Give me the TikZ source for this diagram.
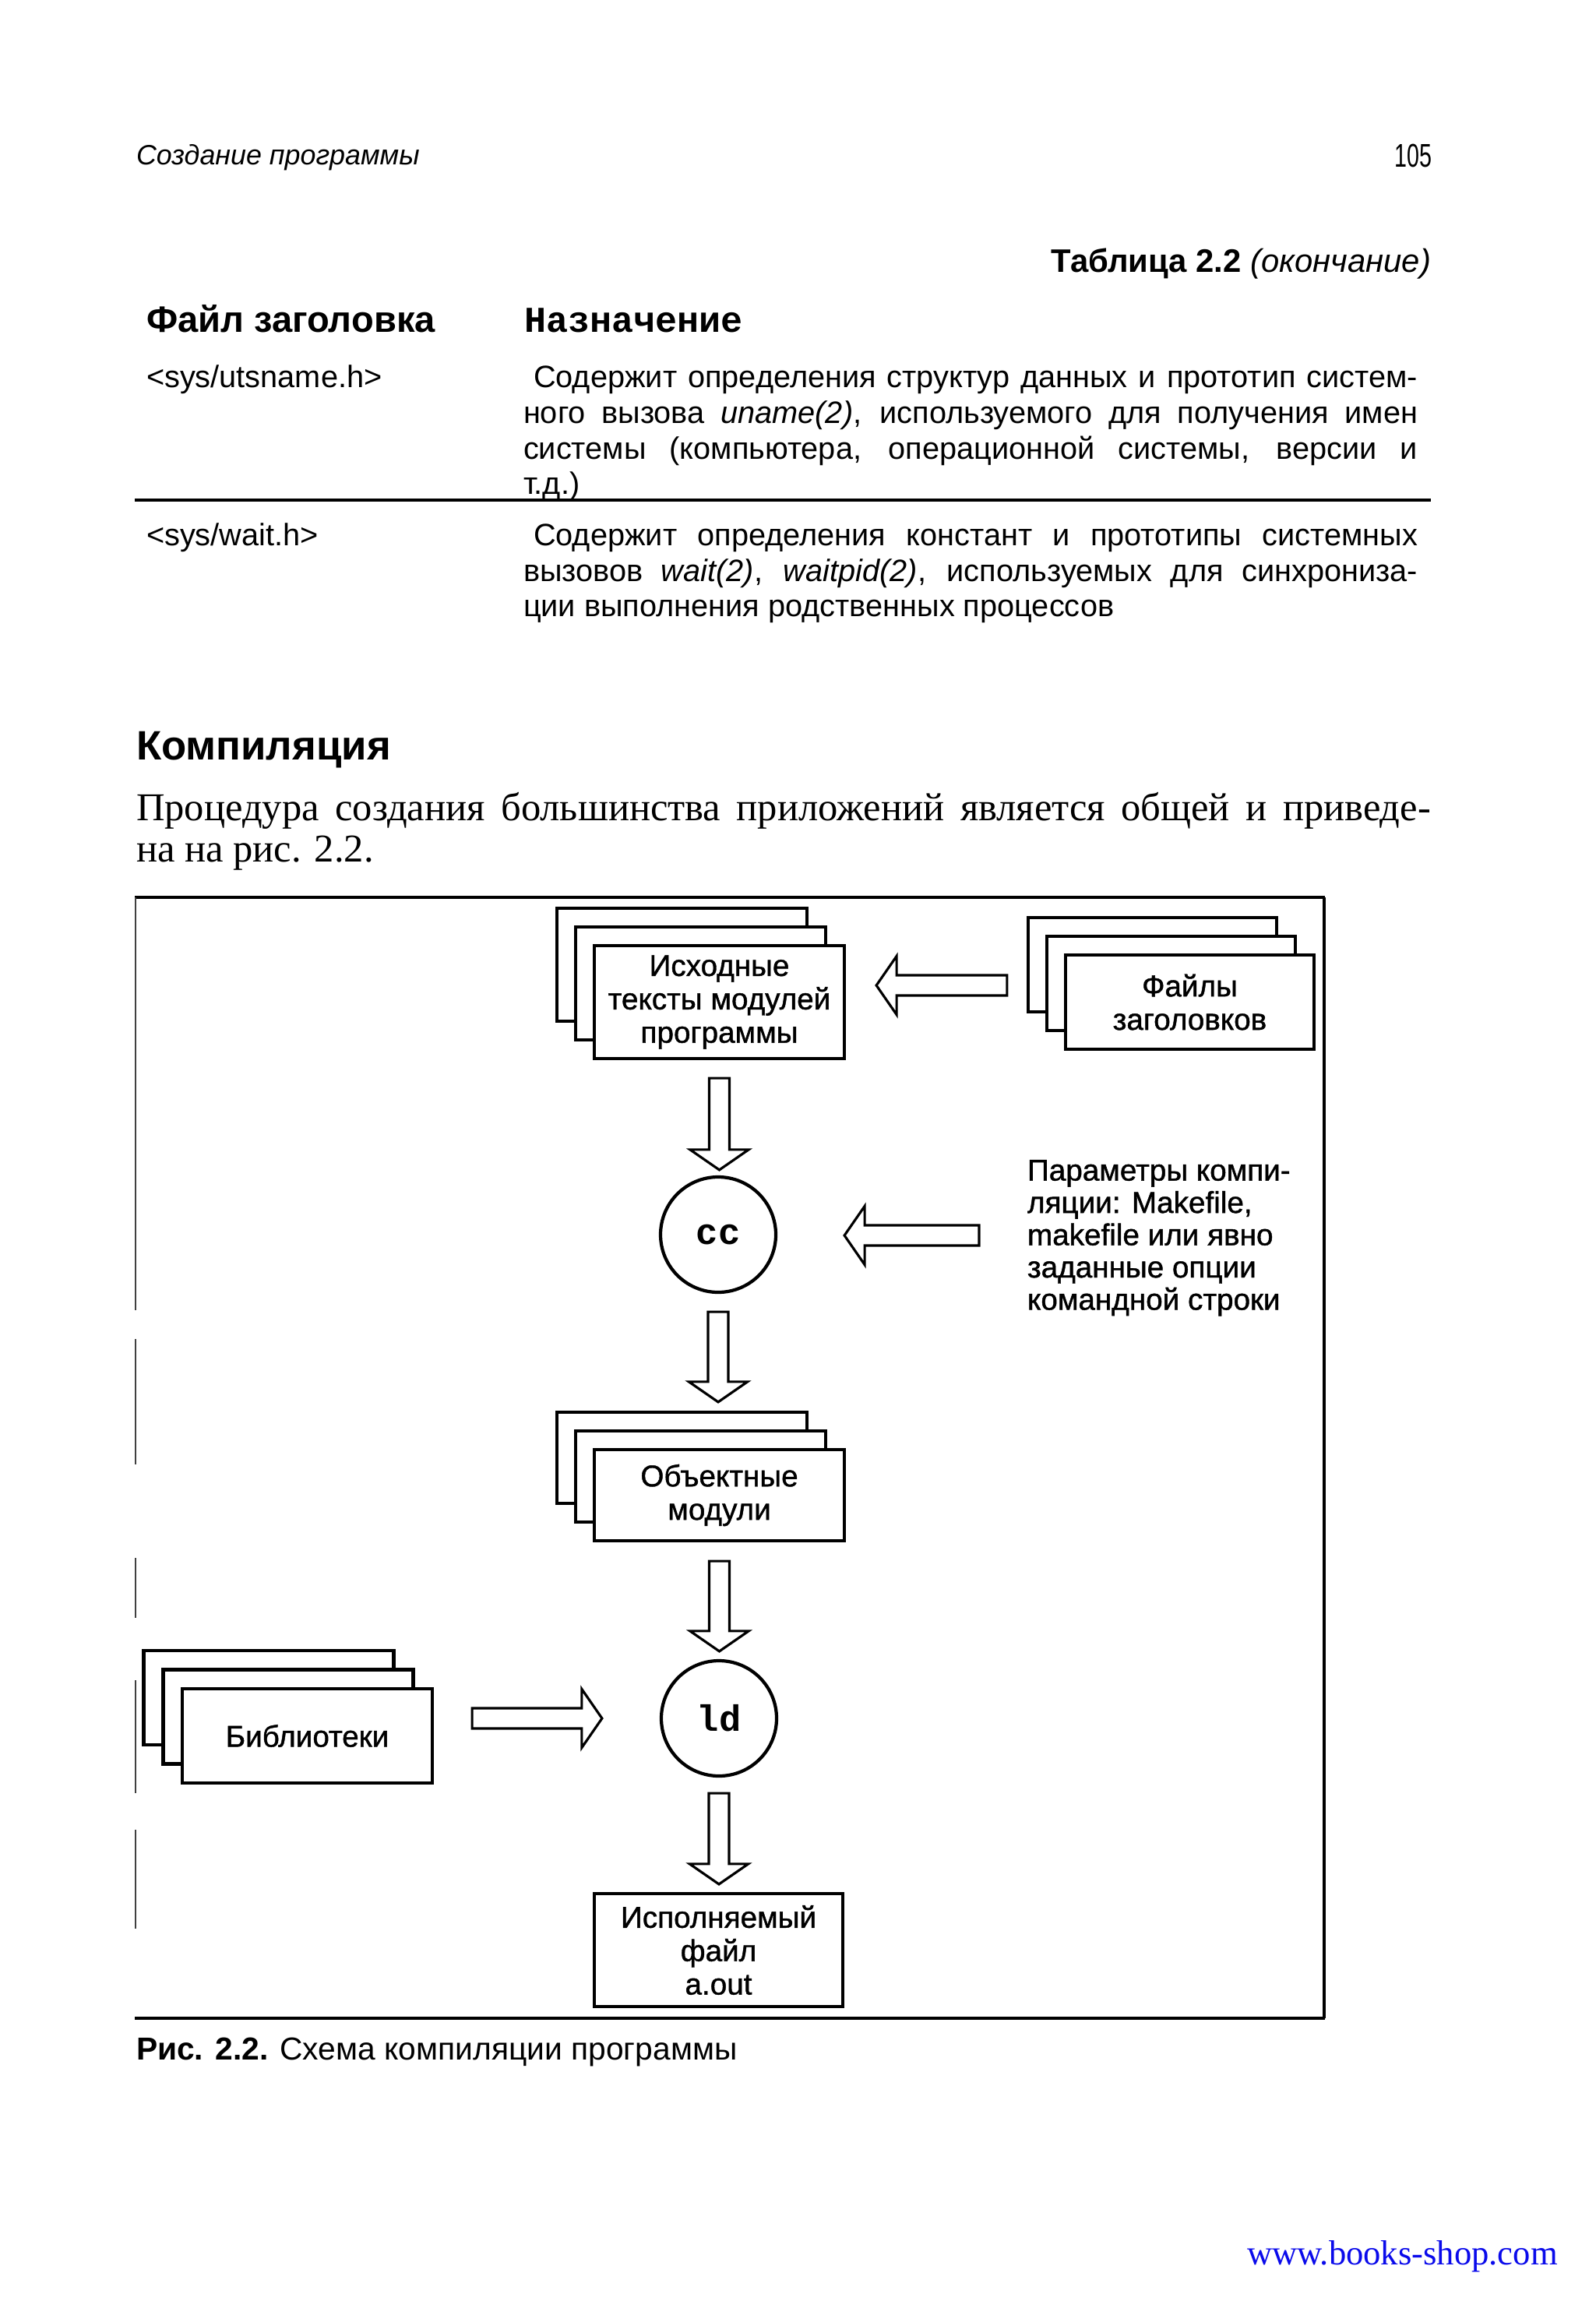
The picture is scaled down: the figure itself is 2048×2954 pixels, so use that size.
\documentclass[tikz,border=0pt]{standalone}
\usepackage{fontspec}
\setmainfont{Liberation Sans}
\newfontfamily\serifrm{Liberation Serif}
\newfontfamily\monofam{Liberation Mono}
\newfontfamily\diagfont{Liberation Sans}[FakeBold=1.1]
\usetikzlibrary{calc}
\definecolor{linkblue}{RGB}{10,10,235}
\def\arrsw{3.7pt}\def\arrhw{10.7pt}\def\arrhl{7.4pt}
\newcommand\arrdown[2]{\draw[blockarrow] let \p1=#1, \p2=#2 in
  (\x1-\arrsw,\y1) -- (\x1+\arrsw,\y1) -- (\x1+\arrsw,\y2+\arrhl) -- (\x1+\arrhw,\y2+\arrhl)
  -- (\x1,\y2) -- (\x1-\arrhw,\y2+\arrhl) -- (\x1-\arrsw,\y2+\arrhl) -- cycle;}
\newcommand\arrleft[2]{\draw[blockarrow] let \p1=#1, \p2=#2 in
  (\x1,\y1-\arrsw) -- (\x1,\y1+\arrsw) -- (\x2+\arrhl,\y1+\arrsw) -- (\x2+\arrhl,\y1+\arrhw)
  -- (\x2,\y1) -- (\x2+\arrhl,\y1-\arrhw) -- (\x2+\arrhl,\y1-\arrsw) -- cycle;}
\newcommand\arrright[2]{\draw[blockarrow] let \p1=#1, \p2=#2 in
  (\x1,\y1-\arrsw) -- (\x1,\y1+\arrsw) -- (\x2-\arrhl,\y1+\arrsw) -- (\x2-\arrhl,\y1+\arrhw)
  -- (\x2,\y1) -- (\x2-\arrhl,\y1-\arrhw) -- (\x2-\arrhl,\y1-\arrsw) -- cycle;}
\begin{document}
\begin{tikzpicture}[x=0.1mm,y=-0.1mm,
  txt/.style={inner sep=0pt, outer sep=0pt},
  body/.style={txt, font=\fontsize{11.3}{13}\selectfont},
  boxsty/.style={draw, line width=1.2pt, fill=white, inner sep=0pt, minimum width=32.1mm},
  frontbox/.style={boxsty, font=\diagfont\fontsize{11}{12.2}\selectfont, align=center},
  prog/.style={draw, circle, line width=1.2pt, minimum size=14.8mm, inner sep=0pt,
    font=\monofam\bfseries\fontsize{13.4}{14}\selectfont},
  blockarrow/.style={draw, line width=0.9pt, fill=white, line join=miter},
  framethick/.style={line width=1.4pt},
  framethin/.style={line width=0.5pt, black!75}]
\fill[white] (0,0) rectangle (2048,2954);
\useasboundingbox (0,0) rectangle (2048,2954);

% running head
\node[txt, anchor=base west, font=\itshape\fontsize{10.2}{12}\selectfont] (runhead) at (175,212) {Создание программы};
\node[txt, anchor=base east, font=\fontsize{12}{14}\selectfont] (pageno) at (1838,215) {\scalebox{0.68}[1]{105}};

% table caption
\node[txt, anchor=base east, font=\fontsize{11.9}{14}\selectfont] (tabcap) at (1837,350) {\bfseries Таблица 2.2 \mdseries\itshape(окончание)};

% table header
\node[txt, anchor=base west, font=\bfseries\fontsize{13.4}{15}\selectfont] (colA) at (188,427) {Файл заголовка};
\node[txt, anchor=base west, font=\monofam\bfseries\fontsize{13.3}{15}\selectfont] (colB) at (673,427) {Назначение};

% row 1
\node[body, anchor=base west] (r1a) at (188,498) {<sys/utsname.h>};
\node[body, anchor=base west] (r1l1) at (685,498) {\makebox[113.5mm][s]{Содержит определения структур данных и прототип систем-}};
\node[body, anchor=base west] (r1l2) at (672,544) {\makebox[114.8mm][s]{ного вызова \textit{uname(2)}, используемого для получения имен}};
\node[body, anchor=base west] (r1l3) at (672,590) {\makebox[114.8mm][s]{системы (компьютера, операционной системы, версии и}};
\node[body, anchor=base west] (r1l4) at (672,635) {т.д.)};
\draw[line width=1.1pt] (173,642) -- (1837,642);

% row 2
\node[body, anchor=base west] (r2a) at (188,701) {<sys/wait.h>};
\node[body, anchor=base west] (r2l1) at (685,701) {\makebox[113.5mm][s]{Содержит определения констант и прототипы системных}};
\node[body, anchor=base west] (r2l2) at (672,746) {\makebox[114.8mm][s]{вызовов \textit{wait(2)}, \textit{waitpid(2)}, используемых для синхрониза-}};
\node[body, anchor=base west] (r2l3) at (672,791) {ции выполнения родственных процессов};

% section heading and paragraph
\node[txt, anchor=base west, font=\bfseries\fontsize{15}{17}\selectfont] (sect) at (175,975) {Компиляция};
\node[txt, anchor=base west, font=\serifrm\fontsize{14.4}{16}\selectfont] (par1) at (175,1053) {\makebox[166.2mm][s]{Процедура создания большинства приложений является общей и приведе-}};
\node[txt, anchor=base west, font=\serifrm\fontsize{14.4}{16}\selectfont] (par2) at (175,1106) {на на рис. 2.2.};

% figure frame
\draw[framethick] (173,1152) -- (1701,1152);
\draw[framethick] (173,2591) -- (1701,2591);
\draw[line width=0.9pt] (1700,1152) -- (1700,2591);
\draw[framethin] (174,1152) -- (174,1682) (174,1719) -- (174,1880) (174,2000) -- (174,2077)
  (174,2157) -- (174,2302) (174,2349) -- (174,2476);

% source modules stack
\node[boxsty, minimum height=14.5mm] (srcback) at (875.5,1238.5) {};
\node[boxsty, minimum height=14.5mm] (srcmid) at (899.5,1262.5) {};
\node[frontbox, minimum height=14.5mm] (srcfront) at (923.5,1286.5) {Исходные\\тексты модулей\\программы};

% header files stack
\node[boxsty, minimum width=31.9mm, minimum height=12.1mm] (hdrback) at (1479.5,1238.5) {};
\node[boxsty, minimum width=31.9mm, minimum height=12.1mm] (hdrmid) at (1503.5,1262.5) {};
\node[frontbox, minimum width=31.9mm, minimum height=12.1mm] (hdrfront) at (1527.5,1286.5) {Файлы\\заголовков};

% compiler
\node[prog] (cc) at (922,1585) {cc};
\node[txt, anchor=north west, align=left, font=\diagfont\fontsize{11}{11.8}\selectfont] (params) at (1319,1489)
  {Параметры компи-\\ляции: Makefile,\\makefile или явно\\заданные опции\\командной строки};

% object modules stack
\node[boxsty, minimum height=11.7mm] (objback) at (875.5,1871.5) {};
\node[boxsty, minimum height=11.7mm] (objmid) at (899.5,1895.5) {};
\node[frontbox, minimum height=11.7mm] (objfront) at (923.5,1919.5) {Объектные\\модули};

% linker
\node[prog] (ld) at (923,2206) {ld};

% libraries stack
\node[boxsty, minimum height=12.1mm] (libback) at (345,2179.5) {};
\node[boxsty, minimum height=12.1mm] (libmid) at (370,2204) {};
\node[frontbox, minimum height=12.1mm] (libfront) at (394.5,2228.5) {Библиотеки};

% executable
\node[frontbox, minimum width=31.9mm, minimum height=14.5mm] (exe) at (922.5,2503.5) {Исполняемый\\файл\\a.out};

% block arrows
\arrleft{($(hdrback.west)+(-25,26.5)$)}{($(srcfront.east)+(39,0)$)}
\arrdown{($(srcfront.south)+(0,23)$)}{($(cc.north)+(0,-7)$)}
\arrleft{($(params.north west |- cc.east)+(-62,1)$)}{($(cc.east)+(86,0)$)}
\arrdown{($(cc.south)+(0,23)$)}{($(objback.north)+(0,-11)$)}
\arrdown{($(objfront.south)+(0,24)$)}{($(ld.north)+(0,-10)$)}
\arrright{($(libfront.east |- ld.west)+(49,0)$)}{($(ld.west)+(-74,0)$)}
\arrdown{($(ld.south)+(0,20)$)}{($(exe.north)+(0,-10)$)}

% caption
\node[txt, anchor=base west, font=\fontsize{11.6}{13}\selectfont] (caption) at (175,2644) {\textbf{Рис. 2.2.} Схема компиляции программы};

% footer
\node[txt, anchor=base west, font=\serifrm\fontsize{12.7}{14}\selectfont, text=linkblue] (footer) at (1601,2907) {www.books-shop.com};
\end{tikzpicture}
\end{document}
